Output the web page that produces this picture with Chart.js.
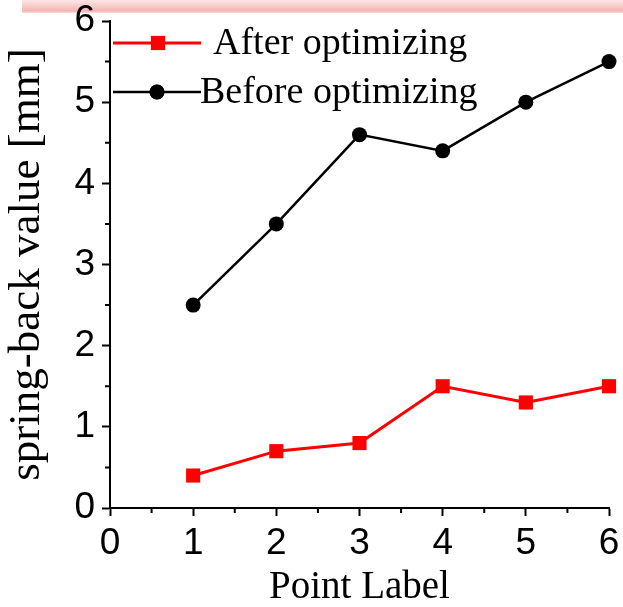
<!DOCTYPE html>
<html>
<head>
<meta charset="utf-8">
<script src="https://cdn.jsdelivr.net/npm/chart.js@4"></script>
<style>
  html, body { margin: 0; padding: 0; background: #fff; }
  #wrap { position: relative; width: 623px; height: 607px; }
  #band { position: absolute; left: 22px; top: 0; width: 601px; height: 13px;
          background: linear-gradient(#fde6e6, #f7b4b4 85%, #fbdede); }
  canvas { position: absolute; left: 0; top: 0; }
</style>
</head>
<body>
<div id="wrap">
  <div id="band"></div>
  <canvas id="chart" width="623" height="607"></canvas>
</div>
<script>
// Data
const pointLabels = [1, 2, 3, 4, 5, 6];
const afterValues = [0.4, 0.7, 0.8, 1.5, 1.3, 1.5];
const beforeValues = [2.5, 3.5, 4.6, 4.4, 5.0, 5.5];
const xTicks = [0, 1, 2, 3, 4, 5, 6];
const yTicks = [0, 1, 2, 3, 4, 5, 6];

const toPoints = vals => vals.map((v, i) => ({ x: pointLabels[i], y: v }));

// Minor ticks at the half steps, drawn outward
const minorTicks = {
    id: 'minorTicks',
    afterDraw(chart) {
        const ctx = chart.ctx;
        const xs = chart.scales.x, ys = chart.scales.y;
        ctx.save();
        ctx.strokeStyle = '#000';
        ctx.lineWidth = 2;
        ctx.beginPath();
        for (let i = 0; i < xTicks.length - 1; i++) {
            const px = xs.getPixelForValue(xTicks[i] + 0.5);
            ctx.moveTo(px, ys.bottom);
            ctx.lineTo(px, ys.bottom + 5);
        }
        for (let i = 0; i < yTicks.length - 1; i++) {
            const py = ys.getPixelForValue(yTicks[i] + 0.5);
            ctx.moveTo(xs.left, py);
            ctx.lineTo(xs.left - 5, py);
        }
        ctx.stroke();
        ctx.restore();
    }
};

// Legend drawn inside the plot, top left
const insideLegend = {
    id: 'insideLegend',
    afterDraw(chart) {
        const ctx = chart.ctx;
        const rows = [
            { ds: chart.data.datasets[0], y: 43, x0: 113, x1: 201, mx: 158, tx: 213 },
            { ds: chart.data.datasets[1], y: 92, x0: 113, x1: 201, mx: 157, tx: 200 }
        ];
        ctx.save();
        rows.forEach(r => {
            ctx.strokeStyle = r.ds.borderColor;
            ctx.lineWidth = r.ds.borderWidth;
            ctx.beginPath();
            ctx.moveTo(r.x0, r.y);
            ctx.lineTo(r.x1, r.y);
            ctx.stroke();
            Chart.helpers.drawPoint(ctx, {
                pointStyle: r.ds.pointStyle,
                radius: r.ds.pointRadius,
                borderWidth: 0,
                rotation: 0
            }, r.mx, r.y);
            ctx.fillStyle = r.ds.pointBackgroundColor;
            ctx.fill();
            ctx.fillStyle = '#000';
            ctx.font = '38px "Liberation Serif", "Times New Roman", serif';
            ctx.textBaseline = 'middle';
            ctx.textAlign = 'left';
            ctx.fillText(r.ds.label, r.tx, r.y + 1);
        });
        ctx.restore();
    }
};

new Chart(document.getElementById('chart'), {
    type: 'scatter',
    data: {
        datasets: [{
            label: 'After optimizing',
            data: toPoints(afterValues),
            showLine: true,
            borderColor: '#ff0000',
            backgroundColor: '#ff0000',
            pointBackgroundColor: '#ff0000',
            pointBorderWidth: 0,
            borderWidth: 3,
            pointStyle: 'rect',
            pointRadius: 10,
            clip: false
        }, {
            label: 'Before optimizing',
            data: toPoints(beforeValues),
            showLine: true,
            borderColor: '#000000',
            backgroundColor: '#000000',
            pointBackgroundColor: '#000000',
            pointBorderWidth: 0,
            borderWidth: 2.5,
            pointStyle: 'circle',
            pointRadius: 7.5,
            clip: false
        }]
    },
    options: {
        responsive: false,
        animation: false,
        layout: { padding: { top: 21, right: 14, left: 0, bottom: 0 } },
        plugins: {
            legend: { display: false },
            tooltip: { enabled: false }
        },
        scales: {
            x: {
                type: 'linear',
                min: 0,
                max: 6,
                afterFit: s => { s.height = 99; s.paddingLeft = 0; s.paddingRight = 0; },
                afterBuildTicks: s => { s.ticks = xTicks.map(v => ({ value: v })); },
                ticks: {
                    color: '#000',
                    padding: 6,
                    font: { family: '"Liberation Sans", Arial, sans-serif', size: 37 }
                },
                grid: {
                    drawOnChartArea: false,
                    drawTicks: true,
                    tickLength: 8,
                    tickColor: '#000',
                    tickWidth: 2
                },
                border: { display: true, color: '#000', width: 2 },
                title: {
                    display: true,
                    text: 'Point Label',
                    color: '#000',
                    padding: { top: 0, bottom: 0 },
                    font: { family: '"Liberation Serif", "Times New Roman", serif', size: 39, lineHeight: 1 }
                }
            },
            y: {
                min: 0,
                max: 6,
                afterFit: s => { s.width = 110; s.paddingTop = 0; s.paddingBottom = 0; },
                afterBuildTicks: s => { s.ticks = yTicks.map(v => ({ value: v })); },
                ticks: {
                    color: '#000',
                    padding: 7,
                    font: { family: '"Liberation Sans", Arial, sans-serif', size: 37 }
                },
                grid: {
                    drawOnChartArea: false,
                    drawTicks: true,
                    tickLength: 8,
                    tickColor: '#000',
                    tickWidth: 2
                },
                border: { display: true, color: '#000', width: 2 },
                title: {
                    display: true,
                    text: 'spring-back value [mm]',
                    color: '#000',
                    padding: { top: 0, bottom: 0 },
                    font: { family: '"Liberation Serif", "Times New Roman", serif', size: 45 }
                }
            }
        }
    },
    plugins: [minorTicks, insideLegend]
});
</script>
</body>
</html>
